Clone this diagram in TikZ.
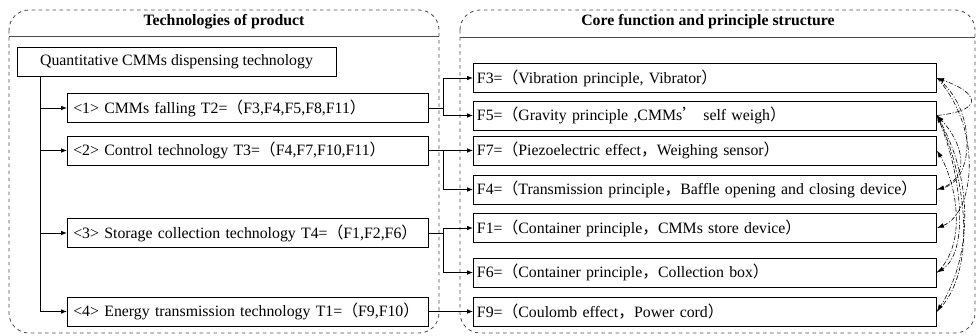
\documentclass[tikz,border=0pt]{standalone}
\usepackage{fontspec}
\setmainfont{Liberation Serif}
\newfontfamily\cjk{Noto Sans CJK SC}
\usetikzlibrary{arrows.meta}
\usetikzlibrary{calc}
\definecolor{mgrey}{rgb}{0.3, 0.3, 0.3}
\newcommand{\fwl}{{\cjk （}}
\newcommand{\fwr}{{\cjk ）}}
\newcommand{\fwc}{{\cjk ，}}
\newcommand{\fwq}{{\cjk ’}}

\begin{document}
\begin{tikzpicture}[x=0.03cm, y=-0.03cm, font=\fontsize{13.5}{16}\selectfont,
    tbox/.style={draw, line width=0.8pt, minimum height=0.87cm, inner xsep=5pt,
      text width=10.83cm-10pt, align=left, anchor=west},
    fbox/.style={draw, line width=0.8pt, minimum height=0.87cm, inner xsep=3pt,
      text width=13.89cm-6pt, align=left, anchor=west},
    arr/.style={-{Latex[length=5pt, width=4pt]}, line width=0.8pt},
    dep/.style={-{Latex[length=6pt, width=4pt]}, line width=0.5pt,
      dash pattern=on 4pt off 1.5pt on 1pt off 1.5pt},
    frame/.style={draw=mgrey, dashed, rounded corners=0.6cm, line width=0.7pt}]
      \useasboundingbox (0, 0) rectangle (977, 336);

      % the two frames
      \draw [frame] (9, 10) rectangle (439, 333);
      \draw [mgrey] (9, 36) -- (439, 36);
      \node (h1) at (224, 22) {\bfseries Technologies of product};
      \draw [frame] (460, 10) rectangle (975, 333);
      \draw [mgrey] (460, 37) -- (975, 37);
      \node (h2) at (708, 22) {\bfseries Core function and principle structure};

      % technologies
      \node (Q) at (176.5, 61.5) [draw, line width=0.8pt, minimum width=9.57cm, minimum height=0.87cm]
        {Quantitative CMMs dispensing technology};
      \node (T2) at (67, 108) [tbox] {<1> CMMs falling T2=\fwl F3,F4,F5,F8,F11\fwr};
      \node (T3) at (67, 150.5) [tbox] {<2> Control technology T3=\fwl F4,F7,F10,F11\fwr};
      \node (T4) at (67, 233) [tbox] {<3> Storage collection technology T4=\fwl F1,F2,F6\fwr};
      \node (T1) at (67, 311.5) [tbox] {<4> Energy transmission technology T1=\fwl F9,F10\fwr};

      % functions
      \node (F3) at (473, 78) [fbox] {F3=\fwl Vibration principle, Vibrator\fwr};
      \node (F5) at (473, 115.5) [fbox] {F5=\fwl Gravity principle ,CMMs\fwq\ self weigh\fwr};
      \node (F7) at (473, 150.5) [fbox] {F7=\fwl Piezoelectric effect\fwc Weighing sensor\fwr};
      \node (F4) at (473, 189.5) [fbox] {F4=\fwl Transmission principle\fwc Baffle opening and closing device\fwr};
      \node (F1) at (473, 228) [fbox] {F1=\fwl Container principle\fwc CMMs store device\fwr};
      \node (F6) at (473, 272.5) [fbox] {F6=\fwl Container principle\fwc Collection box\fwr};
      \node (F9) at (473, 311.5) [fbox] {F9=\fwl Coulomb effect\fwc Power cord\fwr};

      % trunk
      \coordinate (t0) at ($(Q.south west) + (24, 0)$);
      \draw [line width=0.8pt] (t0) -- (t0 |- T1.west);
      \foreach \n in {T2, T3, T4, T1} {
        \draw [arr] (t0 |- \n.west) -- (\n.west);
      }

      % technologies to functions
      \coordinate (b1) at ($(T2.east) + (15, 0)$);
      \coordinate (b2) at ($(T3.east) + (15, 0)$);
      \coordinate (b3) at ($(T4.east) + (15, 0)$);
      \draw [arr] (T2.east) -- (b1) |- (F3.west);
      \draw [arr] (b1) |- (F5.west);
      \draw [arr] (T3.east) -- (F7.west);
      \draw [arr] (b2) |- (F4.west);
      \draw [arr] (T4.east) -- (b3) |- (F1.west);
      \draw [arr] (b3) |- (F6.west);
      \draw [arr] (T1.east) -- (F9.west);

      % links between functions
      \draw [dep] (F5.east) .. controls +(48, -5) and +(42, 15) .. (F3.east);
      \draw [dep] (F4.east) .. controls +(38, -10) and +(24, 25) .. (F5.east);
      \draw [dep] (F9.east) .. controls +(42, -40) and +(28, 60) .. (F5.east);
      \draw [dep] (F6.east) .. controls +(32, -30) and +(18, 30) .. (F7.east);
      \draw [dep] (F3.east) .. controls +(40, 30) and +(38, -10) .. (F4.east);
      \draw [dep] (F3.east) .. controls +(46, 50) and +(38, -15) .. (F1.east);
      \draw [dep] (F5.east) .. controls +(26, 60) and +(32, -20) .. (F6.east);
      \draw [dep] (F5.east) .. controls +(46, 80) and +(26, -40) .. (F9.east);
    \end{tikzpicture}
\end{document}
